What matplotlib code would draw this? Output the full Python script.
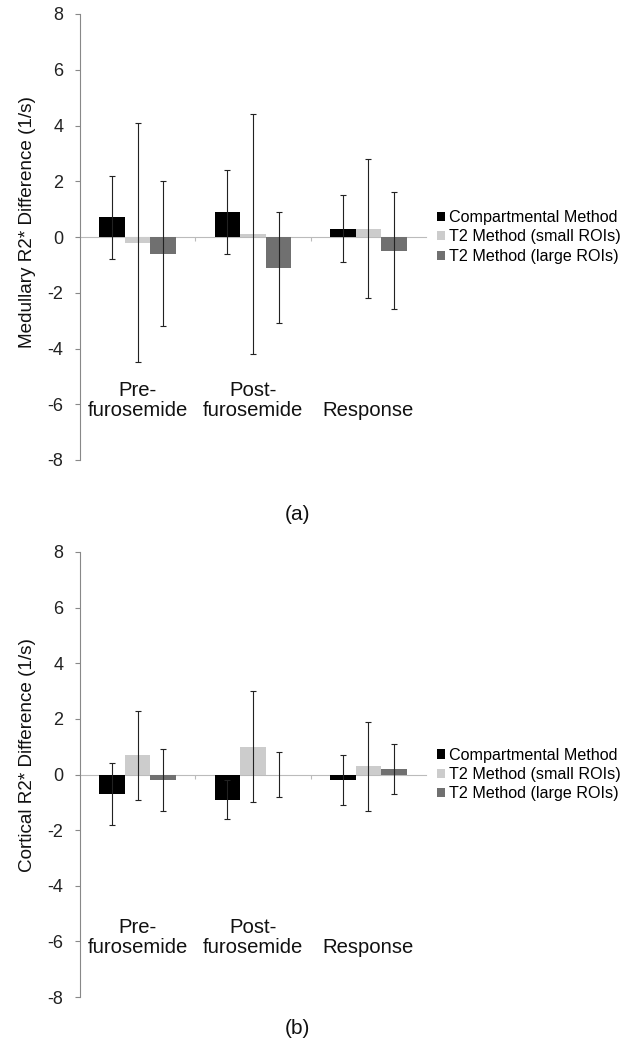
import numpy as np
import matplotlib
matplotlib.use("Agg")
import matplotlib.pyplot as plt

plt.rcParams["font.family"] = ["Liberation Sans", "DejaVu Sans"]
plt.rcParams["axes.unicode_minus"] = False

# === Data ===
categories = ["Pre-\nfurosemide", "Post-\nfurosemide", "Response"]
series = ["Compartmental Method", "T2 Method (small ROIs)", "T2 Method (large ROIs)"]
colors = ["#000000", "#cccccc", "#707070"]

# panel (a) medullary
med_vals = [[0.7, 0.9, 0.3], [-0.2, 0.1, 0.3], [-0.6, -1.1, -0.5]]
med_err = [[1.5, 1.5, 1.2], [4.3, 4.3, 2.5], [2.6, 2.0, 2.1]]

# panel (b) cortical
cor_vals = [[-0.7, -0.9, -0.2], [0.7, 1.0, 0.3], [-0.2, 0.0, 0.2]]
cor_err = [[1.1, 0.7, 0.9], [1.6, 2.0, 1.6], [1.1, 0.8, 0.9]]

ylabels = ["Medullary R2* Difference (1/s)", "Cortical R2* Difference (1/s)"]
panel_tags = ["(a)", "(b)"]

W, H = 629, 1049
fig = plt.figure(figsize=(W / 100, H / 100), dpi=100)

# axes boxes in pixels: left, top, right, bottom
boxes = [(80, 14, 426, 460), (80, 552, 426, 997)]
tag_y = [515, 1029]
label_y = [0.534, 0.544]


def draw_panel(box, vals, errs, ylabel, tag, ty, ly):
    l, t, r, b = box
    ax = fig.add_axes([l / W, 1 - b / H, (r - l) / W, (b - t) / H])
    n = len(series)
    bw = 1 / (n + 1.5)
    x = np.arange(len(categories)) + 0.5
    for i in range(n):
        xs = x + (i - 1) * bw
        ax.bar(xs, vals[i], width=bw, color=colors[i], label=series[i], zorder=2)
        ax.errorbar(xs, vals[i], yerr=errs[i], fmt="none", ecolor="#222222",
                    elinewidth=0.8, capsize=2, capthick=0.8, zorder=3)

    ax.set_xlim(0, 3)
    ax.set_ylim(-8, 8)
    ax.set_yticks(range(-8, 9, 2))
    ax.tick_params(axis="y", direction="out", length=3.5, color="#888888",
                   labelsize=13, labelcolor="#222222", pad=8.5)
    for s in ["top", "right"]:
        ax.spines[s].set_visible(False)
    ax.spines["left"].set_color("#888888")
    ax.spines["bottom"].set_position(("data", 0))
    ax.spines["bottom"].set_color("#bbbbbb")
    ax.spines["bottom"].set_zorder(1)
    ax.set_xticks([1, 2])
    ax.set_xticklabels([])
    ax.tick_params(axis="x", direction="out", length=3, color="#bbbbbb")

    for xi, name in zip(x, categories):
        ax.text(xi, -6.55, name, ha="center", va="bottom", fontsize=14.6,
                color="#111111", linespacing=1.05)

    ax.set_ylabel(ylabel, fontsize=13.6, color="#111111")
    ax.yaxis.set_label_coords((36 - l) / (r - l), ly)

    ax.legend(loc="center left", bbox_to_anchor=((437 - l) / (r - l), 0.5),
              frameon=False, fontsize=11.6, handlelength=0.5, handleheight=0.5,
              handletextpad=0.25, labelspacing=0.27, borderpad=0,
              borderaxespad=0)

    fig.text(297 / W, 1 - ty / H, tag, ha="center", va="center", fontsize=15,
             color="#111111")
    return ax


draw_panel(boxes[0], med_vals, med_err, ylabels[0], panel_tags[0], tag_y[0], label_y[0])
draw_panel(boxes[1], cor_vals, cor_err, ylabels[1], panel_tags[1], tag_y[1], label_y[1])

fig.savefig("out.png", dpi=100, facecolor="white")
